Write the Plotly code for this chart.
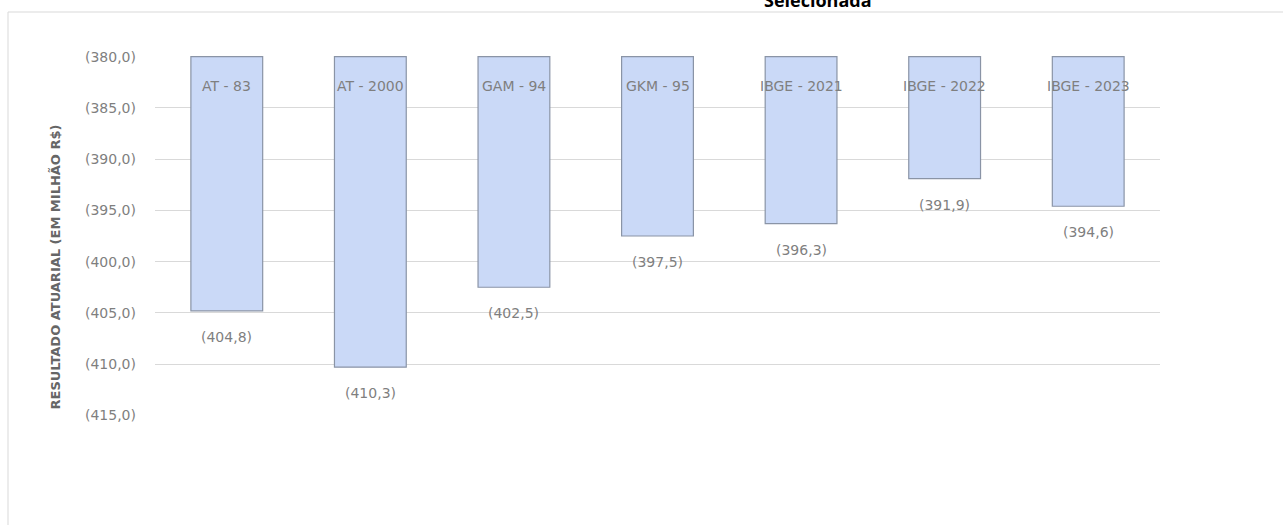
import plotly.graph_objects as go

categories = ["AT - 83", "AT - 2000", "GAM - 94", "GKM - 95", "IBGE - 2021", "IBGE - 2022", "IBGE - 2023"]
values = [-404.8, -410.3, -402.5, -397.5, -396.3, -391.9, -394.6]
axis_base = -380.0
tick_vals = [-380, -385, -390, -395, -400, -405, -410, -415]
tick_text = ["(380,0)", "(385,0)", "(390,0)", "(395,0)", "(400,0)", "(405,0)", "(410,0)", "(415,0)"]
value_labels = ["(404,8)", "(410,3)", "(402,5)", "(397,5)", "(396,3)", "(391,9)", "(394,6)"]
title_text = "Selecionada"
y_title = "RESULTADO ATUARIAL (EM MILHÃO R$)"

W, H = 1283, 525
ML, MR, MT, MB = 155, 1283 - 1160, 56, 525 - 416
FONT = "DejaVu Sans"
GRAY = "#7f7f7f"

fig = go.Figure()
fig.add_trace(go.Bar(
    x=categories,
    y=[v - axis_base for v in values],
    base=axis_base,
    width=0.5,
    marker=dict(color="#cad9f7", line=dict(color="#8a94a6", width=1.2)),
    hoverinfo="skip",
))

annotations = []
for c, v, lab in zip(categories, values, value_labels):
    annotations.append(dict(x=c, y=v, xref="x", yref="y", text=lab, showarrow=False,
                            yanchor="middle", yshift=-26,
                            font=dict(family=FONT, size=14, color=GRAY)))
    annotations.append(dict(x=c, y=axis_base, xref="x", yref="y", text=c, showarrow=False,
                            yanchor="middle", yshift=-29,
                            font=dict(family=FONT, size=14, color=GRAY)))

ph = H - MT - MB
pw = W - ML - MR
def px(x):
    return (x - ML) / pw
def py(y):
    return 1 - (y - MT) / ph

annotations.append(dict(x=px(45), y=py(267), xref="paper", yref="paper",
                        text=y_title, textangle=-90, showarrow=False,
                        font=dict(family=FONT, size=13, color="#666666", weight="bold")))
annotations.append(dict(x=px(818), y=py(14), xref="paper", yref="paper",
                        text=title_text, showarrow=False, yanchor="bottom",
                        font=dict(family="Open Sans", size=18, color="#000000", weight="bold")))

fig.update_layout(
    width=W, height=H,
    margin=dict(l=ML, r=MR, t=MT, b=MB),
    paper_bgcolor="white", plot_bgcolor="white",
    showlegend=False,
    annotations=annotations,
    shapes=[dict(type="rect", xref="paper", yref="paper",
                 x0=px(8), x1=px(1300), y0=py(12), y1=py(540),
                 line=dict(color="#d9d9d9", width=1), layer="below")],
    xaxis=dict(showticklabels=False, showgrid=False, zeroline=False, showline=False, ticks=""),
    yaxis=dict(range=[-415.06, -379.94], tickvals=tick_vals, ticktext=tick_text,
               showgrid=True, gridcolor="#d9d9d9", gridwidth=1, zeroline=False,
               showline=False, ticks="", ticklabelstandoff=18,
               tickfont=dict(family=FONT, size=14, color=GRAY)),
)

fig.write_html("out.html", config={"displayModeBar": False},
               post_script="document.body.style.margin='0';document.body.style.overflow='hidden';")
